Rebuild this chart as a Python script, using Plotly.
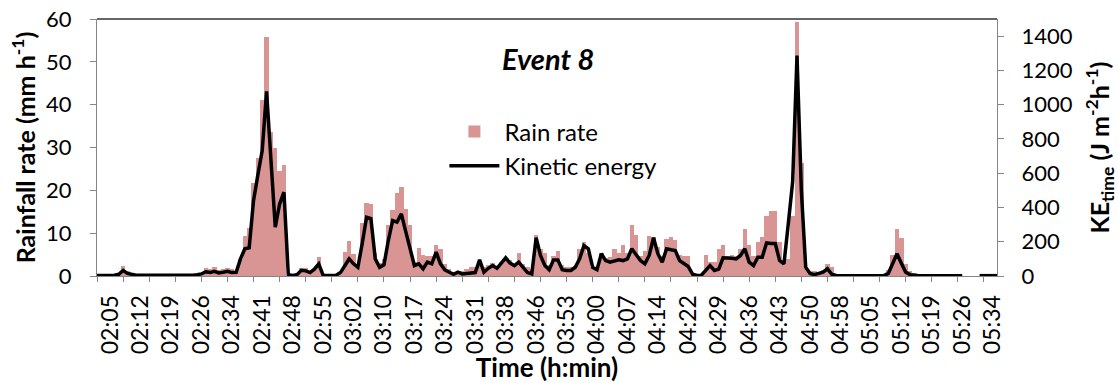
import plotly.graph_objects as go

# ---- data ----
tick_labels = ["02:05", "02:12", "02:19", "02:26", "02:34", "02:41", "02:48", "02:55",
               "03:02", "03:10", "03:17", "03:24", "03:31", "03:38", "03:46", "03:53",
               "04:00", "04:07", "04:14", "04:22", "04:29", "04:36", "04:43", "04:50",
               "04:58", "05:05", "05:12", "05:19", "05:26", "05:34"]

rain_rate = [
    0, 0, 0, 0, 0, 0.5, 2.3, 1.2, 0.3, 0, 0, 0, 0, 0, 0, 0, 0, 0, 0, 0, 0, 0, 0.3, 0.5, 0.8,
    1.9, 1.7, 2.2, 1.5, 1.7, 1.9, 1.7, 1.2,
    4.0, 9.3, 11.2, 21.8, 27.5, 41, 55.8, 33.7, 30, 24.4, 26,
    0, 0.2, 0.8, 1.9, 1.8, 1.5, 1.6, 4.4, 0.3, 0, 0, 0.3, 1.0,
    5.6, 8.1, 5.1, 2.5, 12.3, 17.1, 16.8, 5.3, 3, 4, 11.9, 15.5, 19.3, 20.7, 15.7, 11.9,
    3.3, 6.6, 5, 4.7, 4.7, 7.2, 6.4, 2.9, 1.7, 0.9, 0.7, 1.2, 1.6, 2, 2.2, 3, 2.2, 2.6,
    3, 2.2, 3.3, 4.1, 3.7, 2.6, 5.3, 2.9, 2.2, 1.7, 9.5,
    6.4, 5.3, 2.6, 4.7, 5.8, 2.6, 2.2, 2.2, 2.3,
    6.4, 7.9, 5.3, 2.2, 1.6, 5.3, 4.1, 4.5, 6.2, 5.3, 7.2, 5.3, 11.9, 9.5, 4.7, 5.8,
    9.3, 9.1, 6.8, 4.7, 8.6, 9.1, 8.4, 4.8, 4.7, 4.7, 0.4, 0.2, 0.3, 5, 3.3, 3.3,
    6.4, 7.2, 4.7, 4.8, 4.7, 6.4, 10.9, 7.2, 4.7, 7.9, 9, 14, 15.2, 15.2, 8, 3, 4, 14,
    59.2, 26.3, 1.9, 1.2, 1.1, 0.9, 1.5, 2.7, 2.1, 0.3,
    0, 0, 0, 0, 0, 0, 0, 0, 0, 0, 0.4, 1.3, 4.8, 10.9, 8.8, 2.7, 1.1, 0.8, 0.4,
    0, 0, 0, 0, 0, 0, 0, 0, 0, 0, 0, 0, 0, 0, 0, 0, 0, 0,
]

kinetic_energy = [
    3, 3, 4, 5, 5, 10, 32, 15, 8, 5, 5, 5, 3, 2, 2, 2, 2, 2, 2, 2, 2, 3, 5, 8, 12,
    25, 20, 27, 18, 22, 27, 20, 22,
    100, 159, 165, 440, 590, 732, 1078, 680, 285, 420, 489,
    8, 3, 8, 33, 30, 20, 40, 71, 5, 3, 3, 5, 20,
    60, 100, 71, 51, 190, 343, 335, 100, 51, 65, 207, 324, 315, 363, 260, 150,
    61, 71, 42, 81, 71, 139, 71, 35, 20, 10, 22, 12, 15, 20, 20, 94, 22, 45,
    61, 45, 75, 106, 75, 61, 81, 50, 20, 12, 223,
    120, 61, 37, 94, 94, 37, 32, 32, 51,
    100, 178, 159, 51, 37, 130, 90, 81, 90, 94, 90, 100, 159, 120, 90, 71,
    120, 223, 130, 81, 159, 153, 149, 90, 71, 55, 10, 3, 5, 32, 61, 32,
    40, 106, 106, 103, 100, 120, 159, 81, 61, 110, 110, 193, 190, 190, 90, 71, 305, 550,
    1286, 500, 51, 15, 8, 15, 22, 42, 10, 3,
    2, 2, 2, 2, 2, 2, 2, 2, 2, 2, 2, 15, 71, 130, 75, 22, 8, 3, 2,
    2, 2, 2, 2, 2, 2, 2, 2, 2, 2, None, None, None, 2, 2, 2, 2, 2,
]

n = len(rain_rate)
idx = list(range(n))
label_pos = [3 + 7 * k for k in range(len(tick_labels))]

FONT = "Lato"
GRAY = "#868686"

fig = go.Figure()
fig.add_trace(go.Bar(
    x=idx, y=rain_rate, name="Rain rate",
    marker=dict(color="#D99594", line=dict(width=0)),
    yaxis="y",
))
fig.add_trace(go.Scatter(
    x=idx, y=kinetic_energy, name="Kinetic energy", mode="lines",
    line=dict(color="black", width=3.5), connectgaps=False,
    yaxis="y2",
))

fig.update_layout(
    width=1118, height=383,
    margin=dict(l=97, r=121, t=19, b=107, pad=0, autoexpand=False),
    paper_bgcolor="white", plot_bgcolor="white",
    font=dict(family=FONT, size=22, color="black"),
    bargap=0,
    showlegend=True,
    legend=dict(x=0.386, y=0.648, xanchor="left", yanchor="top",
                bgcolor="rgba(0,0,0,0)", font=dict(size=24, family=FONT),
                itemwidth=50, tracegroupgap=0),
    xaxis=dict(
        range=[0, n - 1], automargin=False,
        tickmode="array", tickvals=label_pos, ticktext=tick_labels,
        tickangle=-90, ticks="", showgrid=False, zeroline=False,
        showline=True, linecolor=GRAY, linewidth=1,
        tickfont=dict(size=23, family=FONT), ticklabelstandoff=9,
        minor=dict(tickmode="linear", tick0=0, dtick=6, ticks="outside",
                   ticklen=5, tickcolor=GRAY, showgrid=False),
        title=dict(text="<b>Time (h:min)</b>", font=dict(size=26, family=FONT), standoff=4),
    ),
    yaxis=dict(
        range=[0, 60], dtick=10, ticks="outside", ticklen=6, tickcolor=GRAY,
        automargin=False, ticklabelstandoff=14,
        showgrid=False, zeroline=False, showline=True, linecolor=GRAY, linewidth=1,
        tickfont=dict(size=22, family=FONT),
        title=dict(text="<b>Rainfall rate (mm h<sup>-1</sup>)</b>",
                   font=dict(size=25, family=FONT), standoff=3),
    ),
    yaxis2=dict(
        overlaying="y", side="right", range=[0, 1500], automargin=False,
        tickmode="array", tickvals=[0, 200, 400, 600, 800, 1000, 1200, 1400],
        ticks="outside", ticklen=6, tickcolor=GRAY, ticklabelstandoff=13,
        showgrid=False, zeroline=False, showline=True, linecolor=GRAY, linewidth=1,
        tickfont=dict(size=22, family=FONT),
        title=dict(text="<b>KE<sub>time</sub> (J m<sup>-2</sup>h<sup>-1</sup>)</b>",
                   font=dict(size=25, family=FONT), standoff=22),
    ),
    shapes=[dict(type="line", xref="paper", yref="paper", x0=0, x1=1, y0=1, y1=1,
                 line=dict(color="#333333", width=1.5))],
    annotations=[dict(text="<b><i>Event 8</i></b>", xref="paper", yref="paper",
                      x=0.501, y=0.848, xanchor="center", yanchor="middle",
                      showarrow=False, font=dict(size=29, family=FONT))],
)

fig.write_html("out.html", config={"displayModeBar": False},
               post_script="document.body.style.margin='0px';")
